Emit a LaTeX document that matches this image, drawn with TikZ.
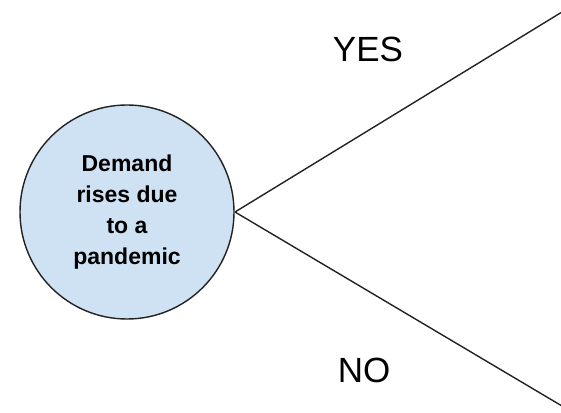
\documentclass[tikz,border=0pt]{standalone}
\usepackage{fontspec}
\setmainfont{Liberation Sans}
\definecolor{bubble}{HTML}{CFE2F3}
\definecolor{ink}{HTML}{222222}
\begin{document}
\begin{tikzpicture}[x=1pt,y=1pt,
  event/.style={circle, draw=ink, line width=1.4pt, fill=bubble,
    minimum size=214pt, inner sep=0pt, align=center,
    font=\fontsize{23}{31}\selectfont\bfseries},
  branch/.style={draw=ink, line width=1.4pt},
  answer/.style={font=\fontsize{35}{40}\selectfont, text=black}]
\useasboundingbox (0,0) rectangle (561,412);
\node[event] (ev) at (127,200) {Demand\\rises due\\to a\\pandemic};
\coordinate (fork) at (235,200);
\coordinate (yesend) at (562,400);
\coordinate (noend) at (562,6);
\draw[branch] (fork) -- (yesend);
\draw[branch] (fork) -- (noend);
\node[answer] (yes) at (368,363) {YES};
\node[answer] (no) at (364,42) {NO};
\end{tikzpicture}
\end{document}
